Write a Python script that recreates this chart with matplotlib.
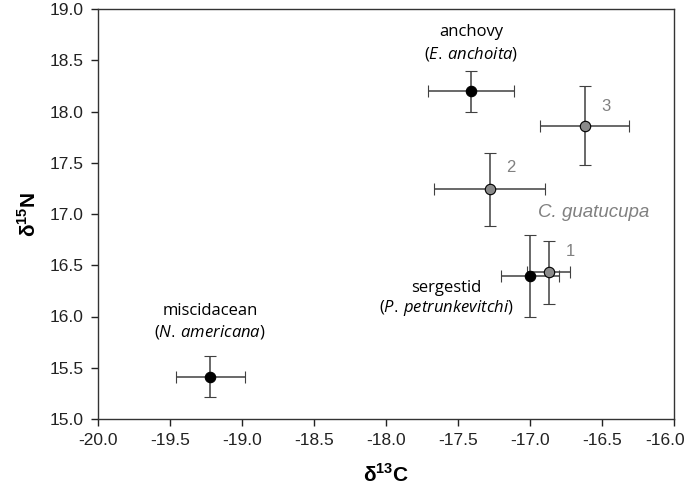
import matplotlib
matplotlib.use("Agg")
import matplotlib.pyplot as plt
import matplotlib.transforms as mtransforms

plt.rcParams["font.family"] = ["Liberation Sans", "DejaVu Sans"]
plt.rcParams["mathtext.fontset"] = "custom"
plt.rcParams["mathtext.rm"] = "Liberation Sans"
plt.rcParams["mathtext.bf"] = "Liberation Sans:bold"
plt.rcParams["mathtext.it"] = "Open Sans:italic"

# prey / predator isotope means with SD
names = ["miscidacean", "anchovy", "sergestid", "1", "2", "3"]
d13C = [-19.22, -17.41, -17.00, -16.87, -17.28, -16.62]
d15N = [15.41, 18.20, 16.40, 16.43, 17.24, 17.86]
sdC = [0.24, 0.30, 0.20, 0.15, 0.385, 0.31]
sdN = [0.20, 0.20, 0.40, 0.31, 0.36, 0.385]
is_predator = [False, False, False, True, True, True]

fig = plt.figure(figsize=(6.84, 4.96), dpi=100)
ax = fig.add_axes([97.7 / 684, 1 - 419 / 496, (674 - 97.7) / 684, (419 - 9) / 496])

for x, y, ex, ey, pred in zip(d13C, d15N, sdC, sdN, is_predator):
    ax.errorbar(x, y, xerr=ex, yerr=ey, fmt="o", ms=7.5,
                mfc="#8a8a8a" if pred else "black", mec="black", mew=0.8,
                ecolor="#404040", elinewidth=1.1, capsize=4, capthick=1.1, zorder=3)

gray = "#808080"
txt = dict(ha="center", va="center", fontsize=12, family=["Open Sans", "DejaVu Sans"])
ax.text(-17.41, 18.78, "anchovy", **txt)
ax.text(-17.41, 18.56, r"($\mathit{E.\,anchoita}$)", **txt)
ax.text(-19.22, 16.05, "miscidacean", **txt)
ax.text(-19.22, 15.85, r"($\mathit{N.\,americana}$)", **txt)
ax.text(-17.58, 16.28, "sergestid", **txt)
ax.text(-17.58, 16.08, r"($\mathit{P.\,petrunkevitchi}$)", **txt)

num = dict(color=gray, fontsize=12, ha="center", va="center")
ax.text(-16.47, 18.05, "3", **num)
ax.text(-17.13, 17.45, "2", **num)
ax.text(-16.72, 16.63, "1", **num)
ax.text(-16.56, 17.01, "C. guatucupa", color=gray, fontsize=13.5, style="italic",
        ha="center", va="center")

ax.set_xlim(-20, -16)
ax.set_ylim(15, 19)
ax.set_xticks([-20 + 0.5 * i for i in range(9)])
ax.set_yticks([15 + 0.5 * i for i in range(9)])
ax.xaxis.set_major_formatter(matplotlib.ticker.FormatStrFormatter("%.1f"))
ax.yaxis.set_major_formatter(matplotlib.ticker.FormatStrFormatter("%.1f"))
ax.tick_params(direction="out", length=5, width=1, labelsize=12.5, colors="#222222", pad=5)
for s in ax.spines.values():
    s.set_color("#333333")
    s.set_linewidth(1)

ax.set_xlabel(r"δ$^{\mathbf{13}}$C", fontsize=15, fontweight="bold", labelpad=11)
ax.set_ylabel(r"δ$^{\mathbf{15}}$N", fontsize=15, fontweight="bold", labelpad=7)

# last x tick label sits just inside the figure edge
fig.canvas.draw()
last = ax.get_xticklabels()[-1]
last.set_transform(last.get_transform() + mtransforms.ScaledTranslation(-9 / 100, 0, fig.dpi_scale_trans))

fig.savefig("out.png", dpi=100)
